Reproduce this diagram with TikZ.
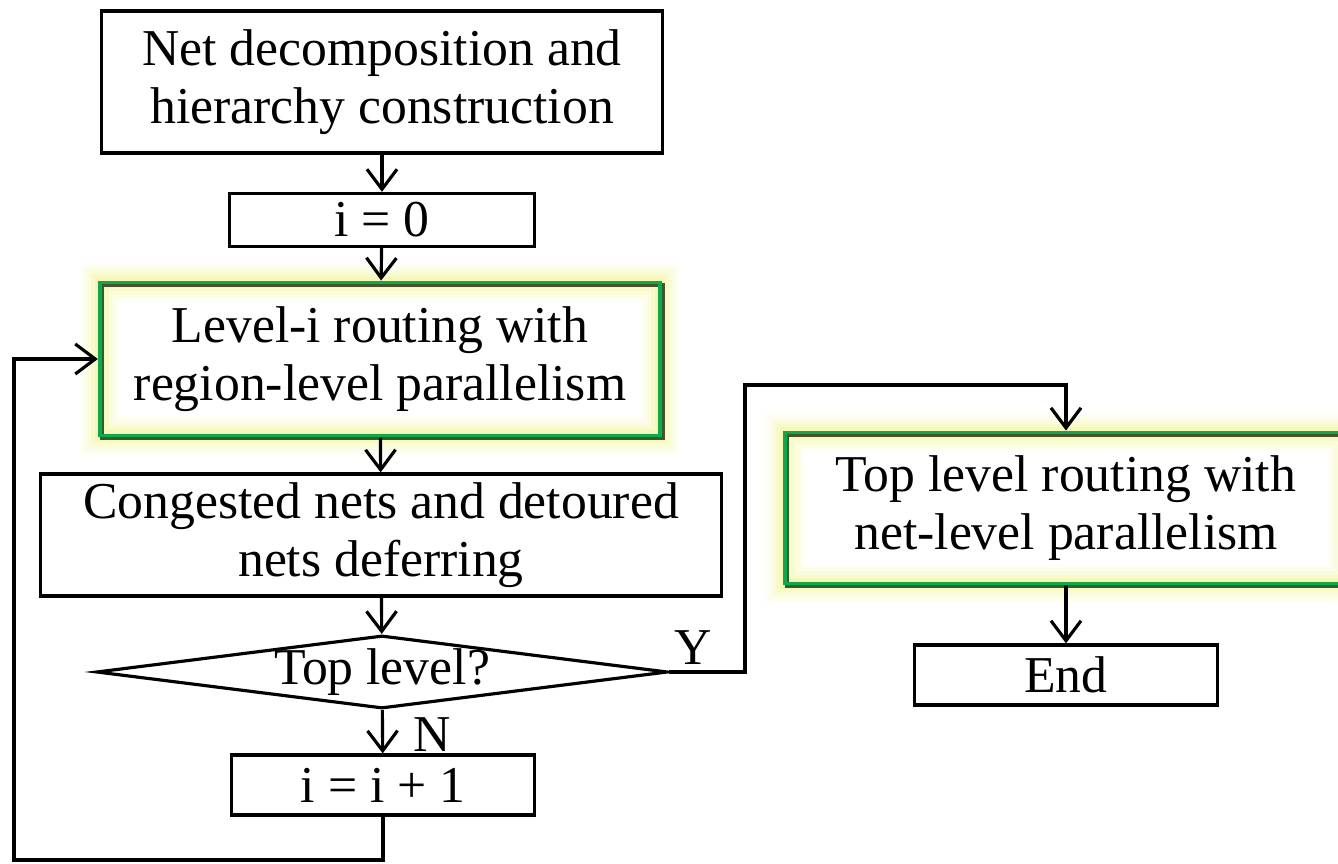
\documentclass[tikz,border=0pt]{standalone}
\usepackage{fontspec}
\setmainfont{Liberation Serif}
\usetikzlibrary{arrows.meta, shapes.geometric, positioning}
\definecolor{boxgreen}{HTML}{00B050}
\definecolor{glowyellow}{HTML}{EEF47A}

\tikzset{
  block/.style={draw, line width=0.9pt, align=center, inner sep=0pt,
    font=\fontsize{14.7}{16.3}\selectfont},
  hilite/.style={block, draw=boxgreen, line width=1.1pt,
    preaction={draw=glowyellow, line width=11pt, opacity=0.08},
    preaction={draw=glowyellow, line width=9pt, opacity=0.1},
    preaction={draw=glowyellow, line width=7pt, opacity=0.12},
    preaction={draw=glowyellow, line width=5pt, opacity=0.18},
    preaction={draw=glowyellow, line width=3pt, opacity=0.3},
    preaction={draw=black!55!olive, line width=1.1pt,
      transform canvas={shift={(0.025cm,-0.025cm)}}}},
  decision/.style={draw, diamond, line width=0.9pt, inner sep=0pt},
  flow/.style={line width=0.9pt, -{Straight Barb[length=2mm,width=3mm]}},
  tag/.style={font=\fontsize{14.7}{16.3}\selectfont}
}

\begin{document}
\begin{tikzpicture}[x=0.01cm, y=-0.01cm]
  \useasboundingbox (0,0) rectangle (1338,864);

  % left column
  \node[block, minimum width=5.61cm, minimum height=1.42cm] (start) at (382,82)
    {Net decomposition and\\hierarchy construction};
  \node[block, minimum width=3.04cm, minimum height=0.53cm] (init) at (382,220) {i = 0};
  \node[hilite, minimum width=5.60cm, minimum height=1.53cm] (lvl) at (380,359)
    {Level-i routing with\\region-level parallelism};
  \node[block, minimum width=6.81cm, minimum height=1.22cm] (defer) at (381,535)
    {Congested nets and detoured\\nets deferring};
  \node[decision, minimum width=5.71cm, minimum height=0.73cm,
    label={[tag]center:Top level?}] (top) at (382,672) {};
  \node[block, minimum width=3.02cm, minimum height=0.60cm] (inc) at (383,785) {i = i + 1};

  % right column
  \node[hilite, minimum width=5.62cm, minimum height=1.51cm] (fin) at (1066,508)
    {Top level routing with\\net-level parallelism};
  \node[block, minimum width=3.02cm, minimum height=0.60cm] (done) at (1066,675) {End};

  \coordinate (loopL) at (14,860);
  \coordinate (yup) at (745,385);

  \draw[flow] (start) -- (init);
  \draw[flow] (init) -- (lvl);
  \draw[flow] (lvl) -- (defer);
  \draw[flow] (defer) -- (top);
  \draw[flow] (top) -- (inc);
  \draw[flow] (inc.south) |- (loopL) |- (lvl.west);
  \draw[flow] (top.east) -| (yup) -| (fin.north);
  \draw[flow] (fin) -- (done);

  \node[tag] (ylab) at (693,648) {Y};
  \node[tag] (nlab) at (432,735) {N};
\end{tikzpicture}
\end{document}
